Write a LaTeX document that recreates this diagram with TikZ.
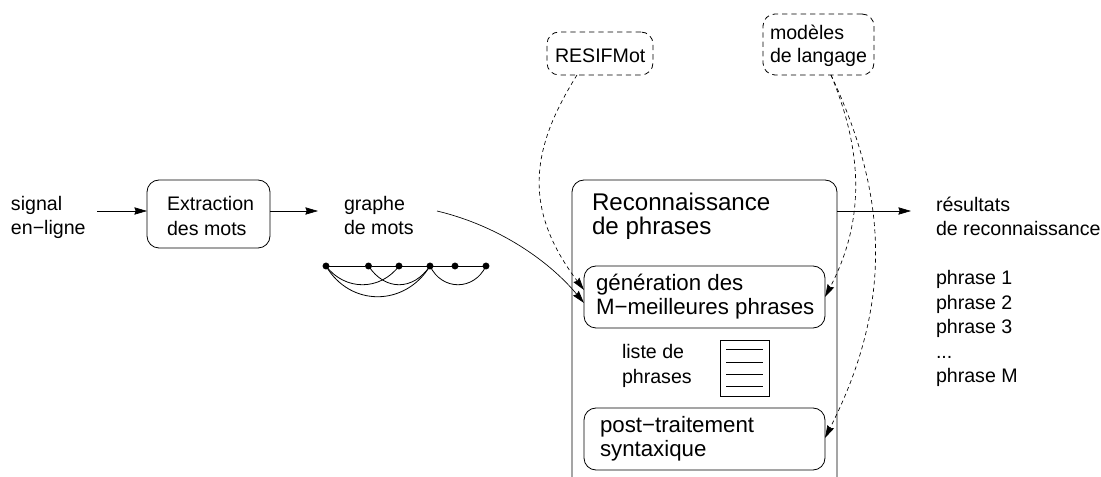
\documentclass[tikz,border=0pt]{standalone}
\usepackage{fontspec}
\setmainfont{Liberation Sans}
\usetikzlibrary{arrows.meta}
\tikzset{
  lbl/.style={anchor=base west,inner sep=0pt,outer sep=0pt,font=\fontsize{14.7pt}{16pt}\selectfont},
  lblm/.style={anchor=base west,inner sep=0pt,outer sep=0pt,font=\fontsize{16.7pt}{18pt}\selectfont},
  lbll/.style={anchor=base west,inner sep=0pt,outer sep=0pt,font=\fontsize{18.1pt}{20pt}\selectfont},
  rbox/.style={draw,rounded corners=9pt,line width=0.6pt,inner sep=0pt,outer sep=0pt},
  dbox/.style={rbox,dash pattern=on 4pt off 3pt},
  arr/.style={-{Stealth[length=9.5pt,width=5.5pt,inset=1pt]},line width=0.5pt},
  darr/.style={arr,dash pattern=on 3pt off 2.5pt},
  gdot/.style={circle,fill=black,inner sep=0pt,minimum size=5.2pt,outer sep=0pt},
  arc/.style={line width=0.6pt},
}
\newcommand{\mn}{−}
\begin{document}
\begin{tikzpicture}[x=0.75pt,y=-0.75pt]
\useasboundingbox (0,0) rectangle (1101,477);
% text
\node[lbl] (sig1) at (11,211) {signal};
\node[lbl] (sig2) at (11,235) {en\mn ligne};
\node[lbl] (gr1) at (344,211) {graphe};
\node[lbl] (gr2) at (344,235) {de mots};
\node[lbl] (res1) at (936,212) {résultats};
\node[lbl] (res2) at (936,236) {de reconnaissance};
\node[lbl] (p1) at (936,285) {phrase 1};
\node[lbl] (p2) at (936,310) {phrase 2};
\node[lbl] (p3) at (936,334) {phrase 3};
\node[lbl] (pd) at (936,359) {...};
\node[lbl] (pm) at (936,383) {phrase M};
% boxes
\node[rbox,minimum width=92.25pt,minimum height=51pt] (ext) at (208.5,214) {};
\node[lbl] (ext1) at (167,211) {Extraction};
\node[lbl] (ext2) at (167,236) {des mots};
\node[dbox,minimum width=79.5pt,minimum height=32.25pt] (res) at (600,53.5) {};
\node[lbl] (rest) at (555,63) {RESIFMot};
\node[dbox,minimum width=83.25pt,minimum height=45.75pt] (mod) at (818.5,44.5) {};
\node[lbl] (mod1) at (770,40) {modèles};
\node[lbl] (mod2) at (770,63) {de langage};
% big open box
\draw[line width=0.6pt,rounded corners=9pt] (572,477) -- (572,180) -- (837,180) -- (837,477);
\coordinate (bigE) at (837,211);
\node[lbll] (rec1) at (592,211) {Reconnaissance};
\node[lbll] (rec2) at (592,235) {de phrases};
\node[rbox,minimum width=180.75pt,minimum height=46.5pt] (gen) at (704.5,297) {};
\node[lblm] (gen1) at (596,291) {génération des};
\node[lblm] (gen2) at (596,315) {M\mn meilleures phrases};
\node[rbox,minimum width=180.75pt,minimum height=46.5pt] (post) at (704.5,439) {};
\node[lblm] (post1) at (600,433) {post\mn traitement};
\node[lblm] (post2) at (600,457) {syntaxique};
\node[lbl] (lst1) at (622,359) {liste de};
\node[lbl] (lst2) at (622,384) {phrases};
% document icon
\node[draw,line width=0.6pt,minimum width=36.75pt,minimum height=42pt,inner sep=0pt,outer sep=0pt] (doc) at (744.5,368) {};
\foreach \yy in {349,362,374,386}{\draw[line width=0.5pt] (726,\yy) -- (763,\yy);}
% arrows
\coordinate (sigE) at (97,211);
\coordinate (grW) at (318,211);
\coordinate (grE) at (437,211);
\coordinate (resW) at (911,211);
\draw[arr] (sigE) -- (sigE -| ext.west);
\draw[arr] (sigE -| ext.east) -- (grW);
\draw[arr] (bigE) -- (resW);
\coordinate (genA) at (584,303);
\coordinate (genB) at (584,290);
\coordinate (genC) at (825,297);
\coordinate (postC) at (825,438);
\coordinate (resS) at (577,75);
\coordinate (modS) at (831,75);
\draw[arr] (grE) .. controls (500,226) and (550,262) .. (genA);
\draw[darr] (resS) .. controls (530,150) and (523,209) .. (genB);
\draw[darr] (modS) .. controls (860,145) and (868,215) .. (genC);
\draw[darr] (modS) .. controls (885,190) and (896,298) .. (postC);
% graph
\foreach \n/\xx in {a/326,b/368.5,c/399,d/430,e/455,f/486}{\node[gdot] (\n) at (\xx,266) {};}
\draw[arc] (a) -- (b) -- (c) -- (d) -- (e) -- (f);
\draw[arc] (a.center) .. controls (345,291) and (380,291) .. (c.center);
\draw[arc] (a.center) .. controls (350,307) and (405,307) .. (d.center);
\draw[arc] (b.center) .. controls (385,291) and (413,291) .. (d.center);
\draw[arc] (d.center) .. controls (442,291) and (474,291) .. (f.center);
\end{tikzpicture}
\end{document}
